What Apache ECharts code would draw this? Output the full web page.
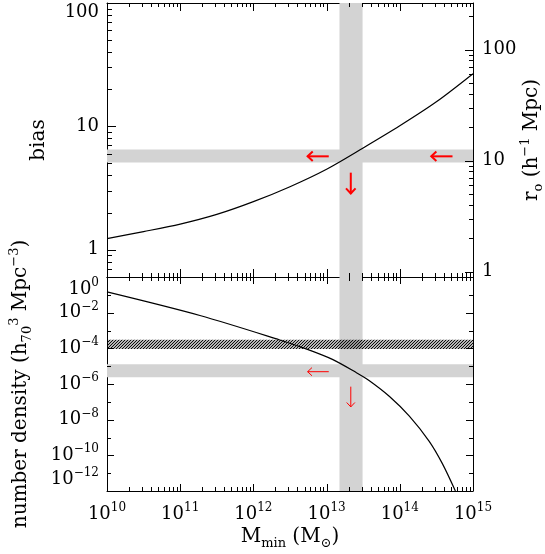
<!DOCTYPE html>
<html><head><meta charset="utf-8">
<script src="https://cdn.jsdelivr.net/npm/echarts@6/dist/echarts.min.js"></script>
<style>html,body{margin:0;padding:0;background:#fff}#c{width:545px;height:554px}</style>
</head><body><div id="c"></div>
<script>
// ---------------- data ----------------
const massRange = [1e10, 1e15];
const biasRange = [0.6, 100];
const r0Range = [0.895, 263];
const densityRange = [1e-12, 1];

const biasMass = [1e10, 3.16e10, 1e11, 3.16e11, 1e12, 3.16e12, 1e13, 3.16e13, 1e14, 3.16e14, 1e15];
const biasValues = [1.23, 1.40, 1.61, 1.93, 2.45, 3.24, 4.49, 6.68, 10.1, 15.8, 26.7];

const densityMass = [1e10, 1.86e11, 2.29e12, 5.25e12, 1.2e13, 2.51e13, 3.8e13, 7.24e13, 1.35e14, 2.51e14, 3.8e14, 5.75e14];
const densityValues = [0.145, 6.9e-3, 2.95e-4, 9.3e-5, 2.4e-5, 4.5e-6, 1.58e-6, 2.0e-7, 1.58e-8, 6.3e-10, 3.55e-11, 1e-12];

const massBand = [1.5e13, 3.1e13];
const biasBand = [5.1, 6.5];
const densityBand = [2.4e-6, 1.3e-5];
const densityHatch = [9.3e-5, 3.0e-4];

// arrows: [tailMass, tailValue, tipMass, tipValue]
const biasArrows = [[1.07e13, 5.71, 5.5e12, 5.71], [5.25e14, 5.71, 2.69e14, 5.71], [2.14e13, 4.21, 2.14e13, 2.85]];
const densityArrows = [[1.07e13, 4.9e-6, 5.5e12, 4.9e-6], [2.14e13, 7.1e-7, 2.14e13, 5.2e-8]];

const massTickExponents = [10, 11, 12, 13, 14, 15];
const biasTickLabels = ['1', '10', '100'];
const densityTickExponents = [0, -2, -4, -6, -8, -10, -12];

// ---------------- helpers ----------------
const lg = Math.log10;
const serif = "'DejaVu Serif','Liberation Serif',serif";
const isInt = v => Math.abs(v - Math.round(v)) < 1e-9;

function logTicks(lo, hi, everyDecadeOnly) {
  const out = [];
  for (let d = Math.floor(lo) - 1; d <= Math.ceil(hi) + 1; d++) {
    const ks = everyDecadeOnly ? [1] : [1, 2, 3, 4, 5, 6, 7, 8, 9];
    ks.forEach(k => {
      const v = d + lg(k);
      if (v >= lo - 1e-9 && v <= hi + 1e-9) out.push({v, major: k === 1});
    });
  }
  return out;
}

function tickSeries(xi, yi, dir, ticks, sides, refOther, majorLen, minorLen, majorTest) {
  return {
    type: 'custom', xAxisIndex: xi, yAxisIndex: yi, silent: true, z: 10,
    data: ticks.map(t => dir === 'x' ? [t.v, refOther, majorTest(t) ? 1 : 0] : [refOther, t.v, majorTest(t) ? 1 : 0]),
    renderItem: (params, api) => {
      const cs = params.coordSys;
      const p = api.coord([api.value(0), api.value(1)]);
      const L = api.value(2) ? majorLen : minorLen;
      const st = {stroke: '#000', lineWidth: 1};
      const ch = [];
      if (dir === 'x') {
        const x = Math.round(p[0]) + 0.5;
        if (sides.includes('bottom')) ch.push({type: 'line', shape: {x1: x, y1: cs.y + cs.height, x2: x, y2: cs.y + cs.height - L}, style: st});
        if (sides.includes('top')) ch.push({type: 'line', shape: {x1: x, y1: cs.y, x2: x, y2: cs.y + L}, style: st});
      } else {
        const y = Math.round(p[1]) + 0.5;
        if (sides.includes('left')) ch.push({type: 'line', shape: {x1: cs.x, y1: y, x2: cs.x + L, y2: y}, style: st});
        if (sides.includes('right')) ch.push({type: 'line', shape: {x1: cs.x + cs.width, y1: y, x2: cs.x + cs.width - L, y2: y}, style: st});
      }
      return {type: 'group', children: ch};
    }
  };
}

function arrowSeries(xi, yi, arrows, width, head) {
  return {
    type: 'custom', xAxisIndex: xi, yAxisIndex: yi, silent: true, z: 20,
    data: arrows.map(a => [lg(a[0]), lg(a[1]), lg(a[2]), lg(a[3])]),
    renderItem: (params, api) => {
      const p1 = api.coord([api.value(0), api.value(1)]);
      const p2 = api.coord([api.value(2), api.value(3)]);
      const ang = Math.atan2(p2[1] - p1[1], p2[0] - p1[0]);
      const a1 = ang + Math.PI - 0.75, a2 = ang + Math.PI + 0.75;
      const st = {stroke: '#ff0000', lineWidth: width, fill: null};
      return {type: 'group', children: [
        {type: 'line', shape: {x1: p1[0], y1: p1[1], x2: p2[0], y2: p2[1]}, style: st},
        {type: 'polyline', shape: {points: [[p2[0] + head * Math.cos(a1), p2[1] + head * Math.sin(a1)], p2, [p2[0] + head * Math.cos(a2), p2[1] + head * Math.sin(a2)]]}, style: st}
      ]};
    }
  };
}

// hatch pattern
const pc = document.createElement('canvas');
pc.width = 3; pc.height = 3;
const ctx = pc.getContext('2d');
ctx.strokeStyle = '#000'; ctx.lineWidth = 1.1;
ctx.beginPath();
ctx.moveTo(-1, 4); ctx.lineTo(4, -1);
ctx.moveTo(-4, 4); ctx.lineTo(1, -1);
ctx.moveTo(2, 4); ctx.lineTo(7, -1);
ctx.stroke();

const tickRich = {
  b: {fontSize: 18, fontFamily: serif, color: '#000', lineHeight: 24},
  s: {fontSize: 12, fontFamily: serif, color: '#000', lineHeight: 14, verticalAlign: 'top'}
};
const nameRich = {
  t: {fontSize: 20, fontFamily: serif, color: '#000', lineHeight: 26},
  sup: {fontSize: 13, fontFamily: serif, color: '#000', lineHeight: 15, verticalAlign: 'top'},
  sub: {fontSize: 13, fontFamily: serif, color: '#000', lineHeight: 15, verticalAlign: 'bottom'}
};

function baseAxis(extra) {
  return Object.assign({
    type: 'value', scale: true, nameMoveOverlap: false,
    axisLine: {show: true, onZero: false, lineStyle: {color: '#000', width: 1}},
    axisTick: {show: false}, splitLine: {show: false}, axisLabel: {show: false}
  }, extra);
}

const mLo = lg(massRange[0]), mHi = lg(massRange[1]);
const bLo = lg(biasRange[0]), bHi = lg(biasRange[1]);
const rLo = lg(r0Range[0]), rHi = lg(r0Range[1]);
const dLo = lg(densityRange[0]), dHi = lg(densityRange[1]);

const decadeLabel = v => {
  if (!isInt(v)) return '';
  const idx = Math.round(v);
  return idx >= 0 && idx < biasTickLabels.length ? biasTickLabels[idx] : '';
};

const option = {
  animation: false,
  grid: [
    {left: 107, top: 3, width: 366, height: 274, outerBoundsMode: 'none', containLabel: false},
    {left: 107, top: 277, width: 366, height: 214, outerBoundsMode: 'none', containLabel: false}
  ],
  xAxis: [
    baseAxis({gridIndex: 0, position: 'bottom', min: mLo, max: mHi}),
    baseAxis({gridIndex: 0, position: 'top', min: mLo, max: mHi}),
    baseAxis({gridIndex: 1, position: 'bottom', min: mLo, max: mHi, interval: 1,
      axisLabel: {show: true, margin: 11, rich: tickRich,
        formatter: v => massTickExponents.includes(Math.round(v)) && isInt(v) ? '{b|10}{s|' + Math.round(v) + '}' : ''},
      name: '{t|M}{sub|min}{t| (M}{sub|⊙}{t|)}', nameLocation: 'middle', nameGap: 33,
      nameTextStyle: {rich: nameRich}}),
    baseAxis({gridIndex: 1, position: 'top', min: mLo, max: mHi})
  ],
  yAxis: [
    baseAxis({gridIndex: 0, position: 'left', min: bLo, max: bHi,
      axisLabel: {show: true, margin: 8, fontSize: 18, fontFamily: serif, color: '#000',
        formatter: decadeLabel, verticalAlignMaxLabel: 'top'},
      name: 'bias', nameLocation: 'middle', nameRotate: 90, nameGap: 58,
      nameTextStyle: {fontSize: 20, fontFamily: serif, color: '#000'}}),
    baseAxis({gridIndex: 0, position: 'right', min: rLo, max: rHi,
      axisLabel: {show: true, margin: 9, fontSize: 18, fontFamily: serif, color: '#000', formatter: decadeLabel},
      name: '{t|r}{sub|o}{t| (h}{sup|−1}{t| Mpc)}', nameLocation: 'middle', nameRotate: 90, nameGap: 46,
      nameTextStyle: {rich: nameRich}}),
    baseAxis({gridIndex: 1, position: 'left', min: dLo, max: dHi, interval: 2,
      axisLabel: {show: true, margin: 8, rich: tickRich, verticalAlignMaxLabel: 'top', verticalAlignMinLabel: 'bottom',
        formatter: v => isInt(v) && densityTickExponents.includes(Math.round(v)) ? '{b|10}{s|' + (Math.round(v) === 0 ? '0' : '−' + (-Math.round(v))) + '}' : ''},
      name: '{t|number density (h}{sub|70}{sup|3}{t| Mpc}{sup|−3}{t|)}', nameLocation: 'middle', nameRotate: 90, nameGap: 73,
      nameTextStyle: {rich: nameRich}}),
    baseAxis({gridIndex: 1, position: 'right', min: dLo, max: dHi, interval: 2})
  ],
  series: [
    {
      type: 'line', xAxisIndex: 0, yAxisIndex: 0, showSymbol: false, smooth: 0.3, z: 5,
      lineStyle: {color: '#000', width: 1.2},
      data: biasMass.map((m, i) => [lg(m), lg(biasValues[i])]),
      markArea: {silent: true, itemStyle: {color: '#d3d3d3', opacity: 1},
        data: [
          [{xAxis: lg(massBand[0])}, {xAxis: lg(massBand[1])}],
          [{yAxis: lg(biasBand[0])}, {yAxis: lg(biasBand[1])}]
        ]}
    },
    {
      type: 'line', xAxisIndex: 2, yAxisIndex: 2, showSymbol: false, smooth: 0.3, z: 5,
      lineStyle: {color: '#000', width: 1.2},
      data: densityMass.map((m, i) => [lg(m), lg(densityValues[i])]),
      markArea: {silent: true, itemStyle: {color: '#d3d3d3', opacity: 1},
        data: [
          [{xAxis: lg(massBand[0])}, {xAxis: lg(massBand[1])}],
          [{yAxis: lg(densityBand[0])}, {yAxis: lg(densityBand[1])}],
          [{yAxis: lg(densityHatch[0]), itemStyle: {color: {image: pc, repeat: 'repeat'}}}, {yAxis: lg(densityHatch[1])}]
        ]}
    },
    tickSeries(0, 0, 'x', logTicks(mLo, mHi, false), ['bottom', 'top'], bLo + 0.5, 8, 4, t => t.major),
    tickSeries(2, 2, 'x', logTicks(mLo, mHi, false), ['bottom', 'top'], dLo + 1, 7, 4, t => t.major),
    tickSeries(0, 0, 'y', logTicks(bLo, bHi, false), ['left'], mLo + 1, 9, 5, t => t.major),
    tickSeries(0, 1, 'y', logTicks(rLo, rHi, false), ['right'], mLo + 1, 8, 4, t => t.major),
    tickSeries(2, 2, 'y', logTicks(dLo, dHi, true), ['left', 'right'], mLo + 1, 7, 4, t => Math.round(t.v) % 2 === 0),
    arrowSeries(0, 0, biasArrows, 2, 7),
    arrowSeries(2, 2, densityArrows, 1, 6)
  ]
};

const chart = echarts.init(document.getElementById('c'), null, {renderer: 'canvas'});
chart.setOption(option);
</script>
</body></html>
